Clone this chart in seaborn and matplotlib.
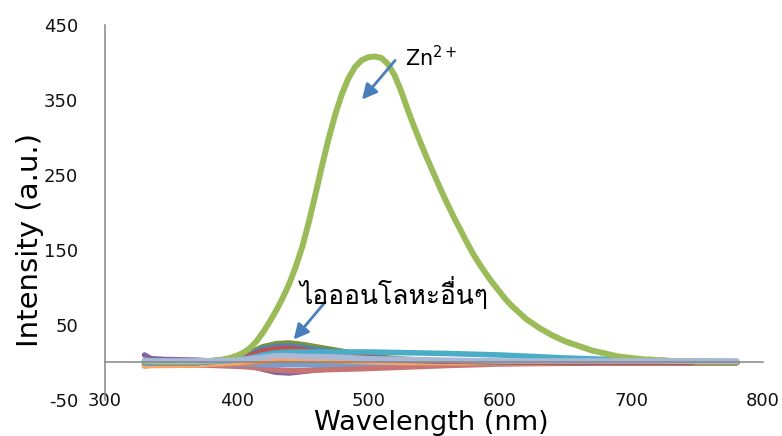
import matplotlib
matplotlib.use("Agg")
import matplotlib.pyplot as plt
from matplotlib import font_manager as fm
import seaborn as sns
from fontTools.ttLib import TTFont

# Zn2+ emission spectrum, 330-780 nm every 5 nm
zn_wavelength = list(range(330, 781, 5))
zn_intensity = [2, 2, 1, 1, 1, 1, 1, 1, 1, 2, 2, 3, 4, 6, 9,
                13, 19, 28, 40, 54, 69, 86, 105, 128, 155, 188, 225, 263, 299, 331,
                358, 379, 394, 403, 407, 408, 406,
                398, 383, 362, 337, 314, 292, 271, 251, 231, 212, 194, 177, 160, 144,
                130, 117, 105, 94, 83, 74, 66, 58, 52, 46, 41, 36, 32, 28, 25, 22,
                19, 16, 14, 12, 10, 8, 7, 6,
                5, 4, 4, 3, 3, 2, 2, 2, 2, 1, 1, 1, 1, 1, 1, 1]

# other metal ions, coarser read-out
ion_wavelength = [330, 335, 345, 370, 400, 410, 420, 430, 440, 450, 460, 480, 500, 530,
                  560, 600, 650, 700, 780]
ion_purple = [10, 5, 4, 3, 0, -4, -9, -13, -14, -12, -10, -7, -4, -2, -1, 0, 0, 0, 0]
ion_pink = [-3, -3, -3, -3, -5, -6, -8, -10, -11, -11, -10, -9, -8, -6, -4, -2, -1, 0, 0]
ion_steel = [-2, -2, -2, -2, -2, -2, -3, -3, -3, -3, -3, -2, -1, 0, 0, 0, 0, 0, 0]
ion_dark_orange = [-4, -3, -3, -3, -1, 0, 2, 3, 3, 3, 3, 2, 1, 0, 0, 0, 0, 0, 0]
ion_orange = [-5, -4, -4, -3, 0, 2, 4, 6, 6, 5, 4, 3, 1, 0, 0, 0, 0, 0, 0]
ion_olive = [0, 0, 0, 0, 6, 13, 21, 25, 26, 24, 21, 15, 8, 4, 2, 1, 0, 0, 0]
ion_blue = [0, 0, 0, 0, 5, 11, 18, 21, 22, 20, 17, 13, 7, 3, 2, 1, 0, 0, 0]
ion_red = [0, 0, 0, 0, 4, 9, 15, 18, 19, 17, 14, 11, 6, 3, 2, 1, 0, 0, 0]
ion_teal = [0, 0, 0, 0, 3, 6, 10, 13, 14, 14, 14, 14, 14, 13, 12, 10, 6, 3, 1]
ion_lavender = [3, 2, 2, 2, 3, 5, 7, 9, 9, 8, 8, 7, 5, 4, 3, 2, 2, 2, 2]

ions = [
    (ion_purple, "#8064A2"),
    (ion_pink, "#C87472"),
    (ion_steel, "#7B9BCB"),
    (ion_dark_orange, "#E8863A"),
    (ion_orange, "#F9A66C"),
    (ion_olive, "#77933C"),
    (ion_blue, "#4F81BD"),
    (ion_red, "#C0504D"),
    (ion_teal, "#4BACC6"),
]

x_ticks = [300, 400, 500, 600, 700, 800]
y_ticks = [-50, 50, 150, 250, 350, 450]


def find_thai_family():
    for entry in fm.fontManager.ttflist:
        try:
            font = TTFont(entry.fname, fontNumber=0, lazy=True)
            if 0x0E44 in font.getBestCmap():
                return entry.name
        except Exception:
            continue
    return None


sns.set_style("white")
thai = find_thai_family()
families = ["DejaVu Sans"] + ([thai] if thai else [])
plt.rcParams["font.family"] = families
plt.rcParams["axes.unicode_minus"] = False

fig = plt.figure(figsize=(7.82, 4.36), dpi=100)
ax = fig.add_axes([0.1343, 0.0826, 0.8414, 0.8601])

for values, color in ions:
    sns.lineplot(x=ion_wavelength, y=values, color=color, linewidth=4, ax=ax,
                 solid_capstyle="round", solid_joinstyle="round")
sns.lineplot(x=zn_wavelength, y=zn_intensity, color="#9BBB59", linewidth=4.3, ax=ax,
             solid_capstyle="round", solid_joinstyle="round")
sns.lineplot(x=ion_wavelength, y=ion_lavender, color="#A8B9D8", linewidth=4, ax=ax,
             solid_capstyle="round", solid_joinstyle="round")

ax.set_xlim(300, 800)
ax.set_ylim(-50, 450)
ax.set_xticks(x_ticks)
ax.set_yticks(y_ticks)

gray = "#868686"
ax.spines["bottom"].set_position(("data", 0))
for side in ["top", "right"]:
    ax.spines[side].set_visible(False)
for side in ["left", "bottom"]:
    ax.spines[side].set_color(gray)
    ax.spines[side].set_linewidth(1.1)

ax.tick_params(axis="x", direction="out", length=6.5, width=1.1, color=gray,
               pad=15, labelsize=13, labelcolor="#111111")
ax.tick_params(axis="y", direction="out", length=6.5, width=1.1, color=gray,
               pad=13, labelsize=13, labelcolor="#111111")

ax.set_xlabel("Wavelength (nm)", fontsize=19.5, color="black")
ax.set_ylabel("Intensity (a.u.)", fontsize=21, color="black")
ax.xaxis.set_label_coords(0.496, -0.08)
ax.xaxis.label.set_va("baseline")
ax.yaxis.set_label_coords(-0.114, 0.4267)
ax.yaxis.label.set_va("center")

arrow = dict(arrowstyle="-|>,head_length=0.9,head_width=0.45", color="#4A7EBB", lw=2)
ax.annotate("", xy=(493.9, 347.7), xytext=(521.8, 405.6), arrowprops=arrow)
ax.text(528, 407, r"$\mathregular{Zn^{2+}}$", fontsize=15, ha="left", va="center",
        color="black")
ax.annotate("", xy=(442.0, 27.7), xytext=(468.6, 83.3), arrowprops=arrow)
ax.text(448.3, 93, "ไอออนโลหะอื่นๆ", fontsize=19, ha="left", va="center", color="black",
        family=[thai or "DejaVu Sans", "DejaVu Sans"])

fig.savefig("out.png", dpi=100)
